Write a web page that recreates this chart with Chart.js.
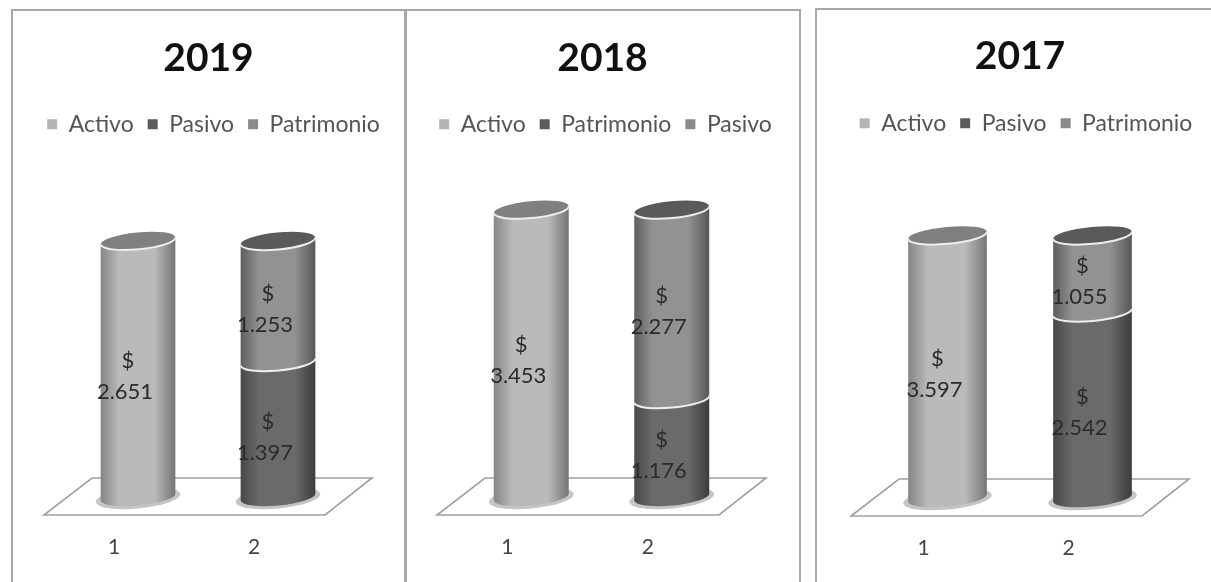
<!DOCTYPE html>
<html><head><meta charset="utf-8">
<script src="https://cdn.jsdelivr.net/npm/chart.js@4"></script>
<style>
html,body{margin:0;padding:0;background:#fff;width:1211px;height:582px;overflow:hidden}
.frame{position:absolute;border:2px solid #a8a8a8;border-bottom:none;box-sizing:border-box}
canvas{position:absolute;filter:blur(.65px)}
</style></head><body>
<div class="frame" style="left:11px;top:9px;width:395px;height:580px"></div>
<div class="frame" style="left:405px;top:9px;width:396px;height:580px"></div>
<div class="frame" style="left:815px;top:8px;width:420px;height:580px"></div>
<canvas id="c2019" width="393" height="572" style="left:12px;top:10px"></canvas>
<canvas id="c2018" width="395" height="572" style="left:405px;top:10px"></canvas>
<canvas id="c2017" width="414" height="573" style="left:813px;top:9px"></canvas>
<script>
const categories = ['1', '2'];

const activo2019 = [2651, null];
const pasivo2019 = [null, 1397];
const patrimonio2019 = [null, 1253];

const activo2018 = [3453, null];
const patrimonio2018 = [null, 1176];
const pasivo2018 = [null, 2277];

const activo2017 = [3597, null];
const pasivo2017 = [null, 2542];
const patrimonio2017 = [null, 1055];

const FONT = 'Lato, Carlito, sans-serif';
const money = v => String(v).replace(/(\d)(\d{3})$/, '$1.$2');

/* tone per series: [edge-left, centre, edge-right, cap, legend] */
const LIGHT = ['#858585', '#bababa', '#757575', '#808080', '#b4b4b4'];
const DARK  = ['#484848', '#6a6a6a', '#3c3c3c', '#585858', '#5c5c5c'];
const MID   = ['#5e5e5e', '#929292', '#565656', '#5a5a5a', '#8a8a8a'];

const cylinders = {
  id: 'cylinders',
  afterLayout(chart) {
    const dx = chart.options.legendShift || 0;
    chart.legend.left += dx;
    chart.legend.right += dx;
  },
  beforeDatasetsDraw(chart) {
    const ctx = chart.ctx, a = chart.chartArea;
    const rot = -0.095, ry = 8.5;
    ctx.save();
    // floor
    ctx.beginPath();
    ctx.moveTo(a.left - 24, a.bottom + 18);
    ctx.lineTo(a.right - 23, a.bottom + 18);
    ctx.lineTo(a.right + 24, a.bottom - 19);
    ctx.lineTo(a.left + 24, a.bottom - 19);
    ctx.closePath();
    ctx.fillStyle = '#ffffff';
    ctx.fill();
    ctx.strokeStyle = '#a0a0a0';
    ctx.lineWidth = 1.6;
    ctx.stroke();

    const segs = [];
    chart.data.datasets.forEach((ds, i) => {
      chart.getDatasetMeta(i).data.forEach((el, j) => {
        if (ds.data[j] != null) segs.push({ x: el.x, y: el.y, base: el.base, w: el.width, tone: ds.tone, v: ds.data[j], j });
      });
    });
    // shadows
    categories.forEach((_, j) => {
      const s = segs.find(q => q.j === j);
      ctx.beginPath();
      ctx.ellipse(s.x, s.base + 1, s.w / 2 + 5, ry + 2, rot, 0, Math.PI * 2);
      ctx.fillStyle = 'rgba(140,140,140,.5)';
      ctx.fill();
    });
    // bodies + caps
    segs.forEach(s => {
      const rx = s.w / 2, t = s.tone;
      const g = ctx.createLinearGradient(s.x - rx, 0, s.x + rx, 0);
      g.addColorStop(0, t[0]);
      g.addColorStop(0.25, t[1]);
      g.addColorStop(0.5, t[1]);
      g.addColorStop(0.72, t[1]);
      g.addColorStop(1, t[2]);
      ctx.beginPath();
      ctx.ellipse(s.x, s.base, rx, ry, rot, Math.PI, 0, true);
      ctx.ellipse(s.x, s.y, rx, ry, rot, 0, Math.PI, false);
      ctx.closePath();
      ctx.fillStyle = g;
      ctx.fill();
      ctx.beginPath();
      ctx.ellipse(s.x, s.y, rx, ry, rot, 0, Math.PI * 2);
      ctx.fillStyle = t[3];
      ctx.fill();
    });
    // rims
    segs.forEach(s => {
      ctx.beginPath();
      ctx.ellipse(s.x, s.y, s.w / 2, ry, rot, 0, Math.PI, false);
      ctx.strokeStyle = '#eeeeee';
      ctx.lineWidth = 2;
      ctx.stroke();
    });
    // value labels
    ctx.fillStyle = '#2b2b2b';
    ctx.textAlign = 'center';
    ctx.textBaseline = 'middle';
    ctx.font = '22px ' + FONT;
    segs.forEach(s => {
      const my = (s.y + s.base) / 2 + 7.5;
      ctx.fillText('$', s.x - 10, my - 15.5);
      ctx.fillText(money(s.v), s.x - 13, my + 15.5);
    });
    ctx.restore();
    return false;
  }
};

function panel(id, title, series, yMax, padTop, padGap, sideL, sideR, belowAxis, barPct, legendShift) {
  new Chart(document.getElementById(id), {
    type: 'bar',
    plugins: [cylinders],
    data: {
      labels: categories,
      datasets: series.map(s => ({ label: s.name, data: s.data, tone: s.tone, backgroundColor: s.tone[4] }))
    },
    options: {
      responsive: false,
      animation: false,
      legendShift,
      scales: {
        x: {
          stacked: true,
          grid: { display: false },
          border: { display: false },
          ticks: { padding: 30, labelOffset: -24, color: '#444444', font: { size: 21, family: FONT } },
          afterFit(s) { s.height = belowAxis; }
        },
        y: {
          stacked: true, display: true, min: 0, max: yMax,
          grid: { display: false }, border: { display: false }, ticks: { display: false },
          afterFit(s) { s.width = sideL; }
        },
        yr: {
          position: 'right', display: true, min: 0, max: yMax,
          grid: { display: false }, border: { display: false }, ticks: { display: false },
          afterFit(s) { s.width = sideR; }
        }
      },
      datasets: { bar: { categoryPercentage: 1, barPercentage: barPct } },
      plugins: {
        tooltip: { enabled: false },
        title: {
          display: true, text: title, color: '#111111',
          font: { size: 39, weight: 'bold', family: FONT },
          padding: { top: padTop, bottom: padGap }
        },
        legend: {
          display: true, position: 'top',
          labels: { boxWidth: 10, boxHeight: 10, padding: 14, color: '#555555', font: { size: 23, family: FONT } }
        }
      }
    }
  });
}

panel('c2019', '2019', [
  { name: 'Activo', data: activo2019, tone: LIGHT },
  { name: 'Pasivo', data: pasivo2019, tone: DARK },
  { name: 'Patrimonio', data: patrimonio2019, tone: MID }
], 3635, 25, 17, 56, 57, 85, 0.536, 5);

panel('c2018', '2018', [
  { name: 'Activo', data: activo2018, tone: LIGHT },
  { name: 'Patrimonio', data: patrimonio2018, tone: DARK },
  { name: 'Pasivo', data: pasivo2018, tone: MID }
], 4220, 25, 17, 56, 58, 85, 0.536, 3);

panel('c2017', '2017', [
  { name: 'Activo', data: activo2017, tone: LIGHT },
  { name: 'Pasivo', data: pasivo2017, tone: DARK },
  { name: 'Patrimonio', data: patrimonio2017, tone: MID }
], 4838, 24, 18, 62, 62, 84, 0.545, 6);
</script>
</body></html>
